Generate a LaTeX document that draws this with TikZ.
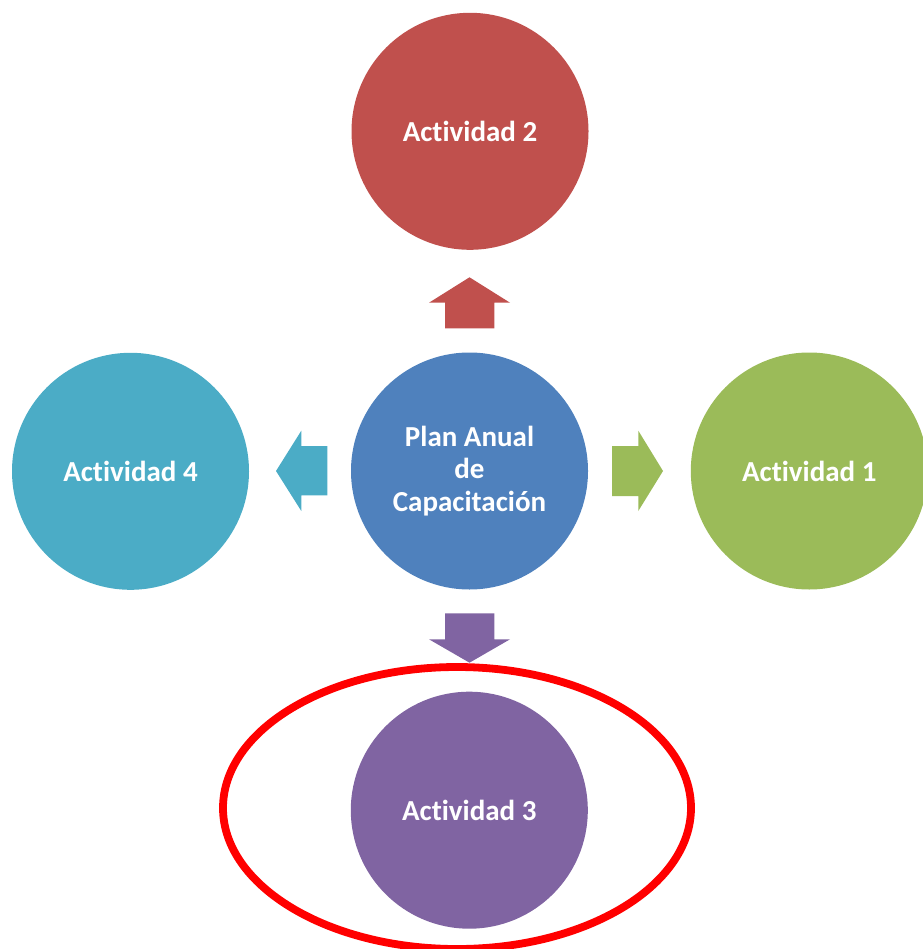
\documentclass[tikz,border=0pt]{standalone}
\usepackage{fontspec}
\setmainfont{Carlito}[Ligatures=NoCommon]
\usetikzlibrary{shapes.geometric}
\definecolor{cRed}{HTML}{C0504D}
\definecolor{cBlue}{HTML}{4F81BD}
\definecolor{cGreen}{HTML}{9BBB59}
\definecolor{cPurple}{HTML}{8064A2}
\definecolor{cAqua}{HTML}{4BACC6}
\definecolor{cHi}{HTML}{FF0000}
\begin{document}
\begin{tikzpicture}[x=1pt,y=-1pt,
  bubble/.style={circle,minimum size=237pt,inner sep=0pt,text=white,
    font=\fontsize{29}{32.3}\selectfont\bfseries,align=center},
  highlight/.style={draw=cHi,line width=7.8pt}]
\useasboundingbox (0,0) rectangle (922,949);
\node[bubble,fill=cBlue]   (plan) at (469.5,471) {Plan Anual\\de\\Capacitación};
\node[bubble,fill=cRed]    (a2)   at (470,131.3) {Actividad 2};
\node[bubble,fill=cAqua]   (a4)   at (130.5,471.3) {Actividad 4};
\node[bubble,fill=cGreen]  (a1)   at (809.3,471) {Actividad 1};
\node[bubble,fill=cPurple] (a3)   at (469.3,810.2) {Actividad 3};
% block arrows
\fill[cRed] (445,328.3) -- (445,302.7) -- (429,302.7) -- (469.5,277.3) -- (510,302.7) -- (494.3,302.7) -- (494.3,328.3) -- cycle;
\fill[cPurple] (445,613.3) -- (445,639.3) -- (429,639.3) -- (469.5,662.7) -- (510,639.3) -- (494.3,639.3) -- (494.3,613.3) -- cycle;
\fill[cAqua] (327.3,446) -- (301.3,446) -- (301.3,430.7) -- (276,471) -- (301.3,511) -- (301.3,495.3) -- (327.3,495.3) -- cycle;
\fill[cGreen] (612,446) -- (638.3,446) -- (638.3,430.7) -- (663,471) -- (638.3,511) -- (638.3,496) -- (612,496) -- cycle;
% highlight ellipse
\node[highlight,ellipse,minimum width=468pt,minimum height=282pt,inner sep=0pt] (hl) at (457,808) {};
\end{tikzpicture}
\end{document}
